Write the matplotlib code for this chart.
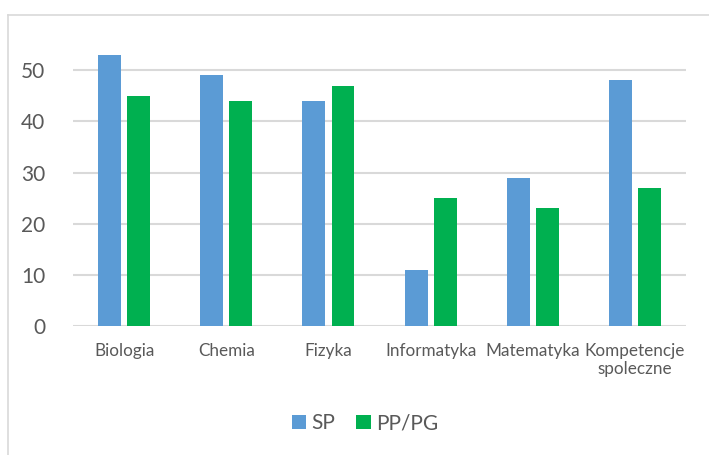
import numpy as np
import matplotlib.pyplot as plt
from matplotlib.lines import Line2D

plt.rcParams['font.family'] = ['Lato', 'DejaVu Sans']

# dane
categories = ['Biologia', 'Chemia', 'Fizyka', 'Informatyka', 'Matematyka', 'Kompetencje\nspoleczne']
sp = [53, 49, 44, 11, 29, 48]
pp_pg = [45, 44, 47, 25, 23, 27]
y_ticks = [0, 10, 20, 30, 40, 50]

blue = '#5B9BD5'
green = '#00B050'
grid_col = '#D9D9D9'
text_col = '#595959'

fig = plt.figure(figsize=(7.09, 4.55), dpi=100)
ax = fig.add_axes([0.103, 0.2835, 0.8646, 0.6745])

x = np.arange(len(categories))
w = 0.225
gap = 0.06
ax.bar(x - (w + gap) / 2, sp, w, color=blue, label='SP', zorder=3)
ax.bar(x + (w + gap) / 2, pp_pg, w, color=green, label='PP/PG', zorder=3)

ax.set_xlim(-0.5, len(categories) - 0.5)
ax.set_ylim(0, 60)
ax.set_yticks(y_ticks)
ax.set_xticks(x)
ax.set_xticklabels(categories, fontsize=12.3, color=text_col, linespacing=1.2)
ax.tick_params(axis='y', labelsize=15, colors=text_col, length=0, pad=20)
ax.tick_params(axis='x', length=0, pad=12)
for lab in ax.get_yticklabels():
    lab.set_color(text_col)

ax.yaxis.grid(True, color=grid_col, linewidth=1.5, zorder=0)
for s in ax.spines.values():
    s.set_visible(False)

leg = fig.legend(loc='center', bbox_to_anchor=(0.515, 0.07), ncol=2, frameon=False,
                 fontsize=15, handlelength=0.7, handleheight=0.7, handletextpad=0.25,
                 columnspacing=1.0)
for t in leg.get_texts():
    t.set_color(text_col)

# ramka wykresu (przycieta)
fig.add_artist(Line2D([0.0113, 0.0113], [0, 0.967], color=grid_col, linewidth=1.2,
                      transform=fig.transFigure))
fig.add_artist(Line2D([0.0113, 1.0], [0.967, 0.967], color=grid_col, linewidth=1.2,
                      transform=fig.transFigure))

fig.savefig('out.png', dpi=100)
